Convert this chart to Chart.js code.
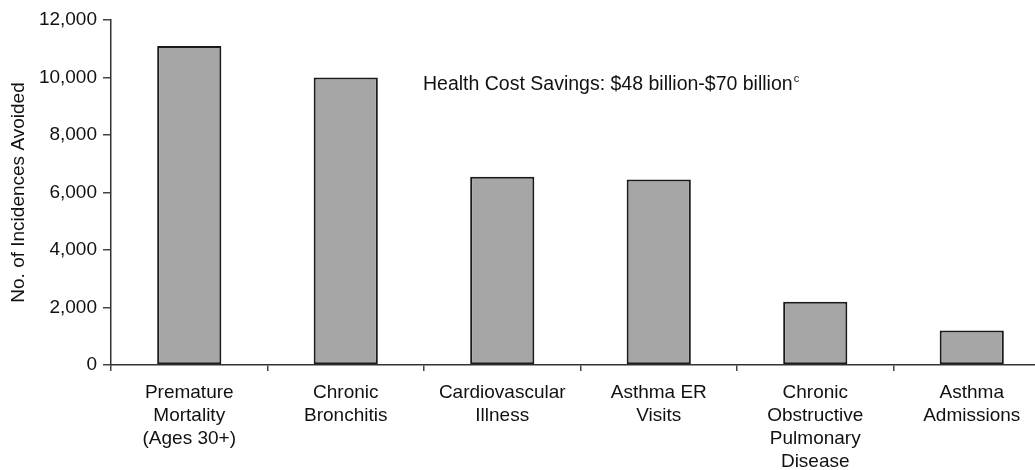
<!DOCTYPE html>
<html>
<head>
<meta charset="utf-8">
<script src="https://cdn.jsdelivr.net/npm/chart.js@4"></script>
<style>
  html, body { margin: 0; padding: 0; background: #fff; overflow: hidden; }
  #wrap { width: 1050px; height: 470px; }
</style>
</head>
<body>
<div id="wrap"><canvas id="chart" width="1050" height="470"></canvas></div>
<script>
const categories = [
    ['Premature', 'Mortality', '(Ages 30+)'],
    ['Chronic', 'Bronchitis'],
    ['Cardiovascular', 'Illness'],
    ['Asthma ER', 'Visits'],
    ['Chronic', 'Obstructive', 'Pulmonary', 'Disease'],
    ['Asthma', 'Admissions']
];
const incidencesAvoided = [11100, 10000, 6550, 6450, 2200, 1200];
const yTicks = [0, 2000, 4000, 6000, 8000, 10000, 12000];
const note = 'Health Cost Savings: $48 billion-$70 billion';
const noteSup = 'c';

const FONT = 'Liberation Sans, Arial, sans-serif';

// savings note with its footnote marker
const notePlugin = {
    id: 'note',
    afterDraw(chart) {
        const ctx = chart.ctx;
        const a = chart.chartArea;
        const x = a.left + 312, y = 90;
        ctx.save();
        ctx.fillStyle = '#111';
        ctx.textBaseline = 'alphabetic';
        ctx.textAlign = 'left';
        ctx.font = '19.5px ' + FONT;
        ctx.fillText(note, x, y);
        const w = ctx.measureText(note).width;
        ctx.font = '11px ' + FONT;
        ctx.fillText(noteSup, x + w + 1, y - 8);
        ctx.restore();
    }
};

new Chart(document.getElementById('chart'), {
    type: 'bar',
    data: {
        labels: categories,
        datasets: [{
            data: incidencesAvoided,
            backgroundColor: '#a6a6a6',
            borderColor: '#1a1a1a',
            borderWidth: 2,
            borderSkipped: false,
            barPercentage: 0.41,
            categoryPercentage: 1
        }]
    },
    options: {
        responsive: false,
        animation: false,
        layout: { padding: { top: 20, right: 0, left: 0, bottom: 0 } },
        plugins: { legend: { display: false }, tooltip: { enabled: false } },
        scales: {
            x: {
                offset: true,
                grid: { offset: true, drawOnChartArea: false, drawTicks: true, tickLength: 6, color: '#444', lineWidth: 1.5 },
                border: { display: true, color: '#333', width: 1.5 },
                ticks: { color: '#111', font: { family: FONT, size: 19, lineHeight: 1.22 }, padding: 10, maxRotation: 0, autoSkip: false },
                afterFit(scale) { scale.height = 105; }
            },
            y: {
                min: 0,
                max: 12000,
                afterBuildTicks(scale) { scale.ticks = yTicks.map(v => ({ value: v })); },
                grid: { drawOnChartArea: false, drawTicks: true, tickLength: 8, color: '#444', lineWidth: 1.5 },
                border: { display: true, color: '#333', width: 1.5 },
                ticks: {
                    color: '#111',
                    font: { family: FONT, size: 19 },
                    padding: 6,
                    callback: v => v.toLocaleString('en-US')
                },
                title: {
                    display: true,
                    text: 'No. of Incidences Avoided',
                    color: '#111',
                    font: { family: FONT, size: 19 },
                    padding: { top: 7, bottom: 0 }
                },
                afterFit(scale) { scale.width = 111; }
            }
        }
    },
    plugins: [notePlugin]
});
</script>
</body>
</html>
